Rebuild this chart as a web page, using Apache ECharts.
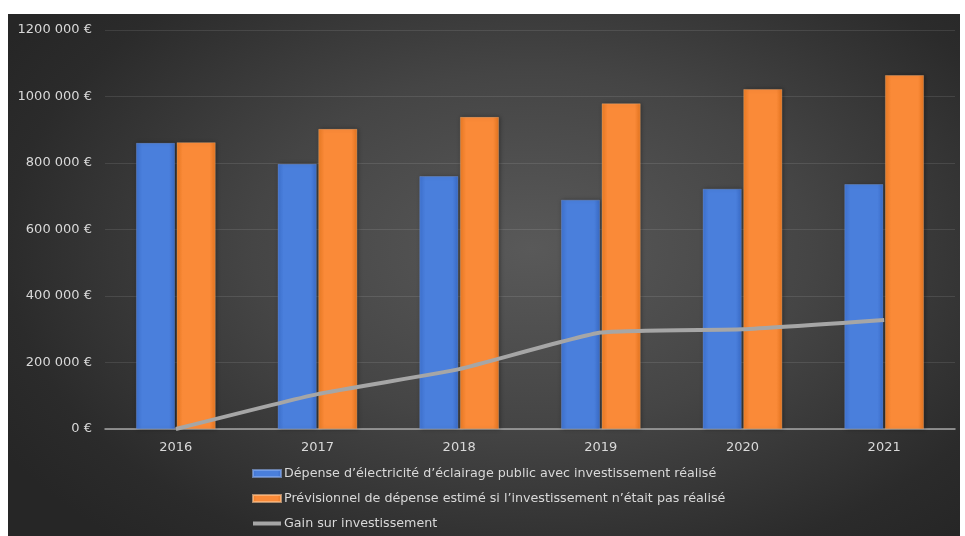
<!DOCTYPE html>
<html>
<head>
<meta charset="utf-8">
<script src="https://cdn.jsdelivr.net/npm/echarts@6/dist/echarts.min.js"></script>
<style>
  html, body { margin: 0; padding: 0; background: #ffffff; width: 965px; height: 536px; overflow: hidden; }
  #chart { position: absolute; left: 8px; top: 14px; width: 952px; height: 522px;
    background: radial-gradient(ellipse 65% 75% at 55% 45%, #595959 0%, #454545 45%, #2b2b2b 85%, #262626 100%); }
</style>
</head>
<body>
<div id="chart"></div>
<script>
const categories = ['2016', '2017', '2018', '2019', '2020', '2021'];
const depenseReelle = [860000, 797000, 760000, 689000, 722000, 736000];
const previsionnel = [862000, 902000, 938000, 979000, 1022000, 1064000];
const gain = [0, 105000, 180000, 290000, 300000, 328000];
const yTickLabels = { 0: '0 €', 200000: '200 000 €', 400000: '400 000 €', 600000: '600 000 €', 800000: '800 000 €', 1000000: '1000 000 €', 1200000: '1200 000 €' };

const seriesNames = [
  'Dépense d’électricité d’éclairage public avec investissement réalisé',
  'Prévisionnel de dépense estimé si l’investissement n’était pas réalisé',
  'Gain sur investissement'
];

const chart = echarts.init(document.getElementById('chart'), null, { renderer: 'canvas' });
const font = 'DejaVu Sans';
chart.setOption({
  backgroundColor: 'transparent',
  animation: false,
  textStyle: { fontFamily: font },
  grid: { left: 97, right: 5, top: 16, bottom: 107 },
  legend: {
    orient: 'vertical',
    left: 244,
    top: 452,
    padding: 0,
    itemWidth: 28,
    itemHeight: 7,
    itemGap: 10,
    textStyle: { color: '#d9d9d9', fontSize: 12.7, fontFamily: font, lineHeight: 15, padding: [0, 0, 0, -2] },
    data: [
      { name: seriesNames[0], icon: 'rect' },
      { name: seriesNames[1], icon: 'rect' },
      { name: seriesNames[2], icon: 'path://M0,0L0.01,0L0.01,0.01Z M0,1.5H28V5.5H0Z M28,7L27.99,7L27.99,6.99Z',
        itemStyle: { color: '#a6a6a6' } }
    ]
  },
  xAxis: {
    type: 'category',
    data: categories,
    axisLine: { show: true, lineStyle: { color: '#a6a6a6', width: 1.5 } },
    axisTick: { show: false },
    axisLabel: { color: '#d9d9d9', fontSize: 13, margin: 12, fontFamily: font }
  },
  yAxis: {
    type: 'value',
    min: 0,
    max: 1200000,
    interval: 200000,
    axisLine: { show: false },
    axisTick: { show: false },
    splitLine: { lineStyle: { color: 'rgba(255,255,255,0.10)', width: 1 } },
    axisLabel: {
      color: '#d9d9d9', fontSize: 13, margin: 13, fontFamily: font,
      formatter: v => yTickLabels[v] !== undefined ? yTickLabels[v] : v
    }
  },
  series: [
    {
      name: seriesNames[0],
      type: 'bar',
      data: depenseReelle,
      barGap: '5%',
      barCategoryGap: '44%',
      itemStyle: {
        color: new echarts.graphic.LinearGradient(0, 0, 1, 0, [
          { offset: 0, color: '#3f72d0' },
          { offset: 0.15, color: '#4a7fdc' },
          { offset: 0.85, color: '#4a7fdc' },
          { offset: 1, color: '#3a6bc6' }
        ]),
        borderColor: 'rgba(140,175,240,0.6)',
        borderWidth: 0.5,
        shadowColor: 'rgba(0,0,0,0.35)',
        shadowBlur: 4,
        shadowOffsetX: 1
      },
      z: 2
    },
    {
      name: seriesNames[1],
      type: 'bar',
      data: previsionnel,
      itemStyle: {
        color: new echarts.graphic.LinearGradient(0, 0, 1, 0, [
          { offset: 0, color: '#ea7b24' },
          { offset: 0.15, color: '#fa8a38' },
          { offset: 0.85, color: '#fa8a38' },
          { offset: 1, color: '#e37420' }
        ]),
        borderColor: 'rgba(255,200,150,0.6)',
        borderWidth: 0.5,
        shadowColor: 'rgba(0,0,0,0.35)',
        shadowBlur: 4,
        shadowOffsetX: 1
      },
      z: 2
    },
    {
      name: seriesNames[2],
      type: 'line',
      data: gain,
      symbol: 'none',
      smooth: 0.15,
      lineStyle: { color: '#a6a6a6', width: 4 },
      itemStyle: { color: '#a6a6a6' },
      z: 3
    }
  ]
});
</script>
</body>
</html>
